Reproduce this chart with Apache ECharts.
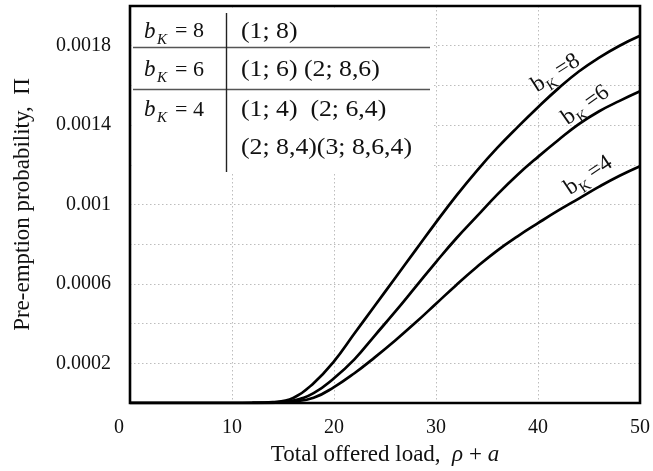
<!DOCTYPE html>
<html>
<head>
<meta charset="utf-8">
<script src="https://cdn.jsdelivr.net/npm/echarts@6/dist/echarts.min.js"></script>
<style>
html,body{margin:0;padding:0;background:#fff;}
#c{width:653px;height:471px;}
</style>
</head>
<body>
<div id="c"></div>
<script>
// ---- data ----
var loads  = [0, 2, 4, 6, 8, 10, 12, 14, 16, 18, 20, 22, 24, 26, 28, 30, 32, 34, 36, 38, 40, 42, 44, 46, 48, 50];
var pi_bK8 = [0, 0, 0, 0, 0, 0, 0.0000005, 0.000004, 0.000025, 0.0001, 0.00021, 0.00035, 0.00049, 0.00063, 0.00077, 0.00091, 0.001045, 0.00117, 0.001285, 0.00139, 0.00149, 0.001585, 0.00167, 0.00174, 0.0018, 0.00185];
var pi_bK6 = [0, 0, 0, 0, 0, 0, 0.0000003, 0.000002, 0.000012, 0.00005, 0.000125, 0.00022, 0.00034, 0.00046, 0.000585, 0.00071, 0.00083, 0.00094, 0.00105, 0.00115, 0.00124, 0.001325, 0.001405, 0.00147, 0.001522, 0.00157];
var pi_bK4 = [0, 0, 0, 0, 0, 0, 0.0000002, 0.000001, 0.000007, 0.000026, 0.00008, 0.00015, 0.00023, 0.000315, 0.000405, 0.0005, 0.000595, 0.000685, 0.000768, 0.00084, 0.000906, 0.00097, 0.00103, 0.00109, 0.001145, 0.001193];
var xTicks = [0, 10, 20, 30, 40, 50];
var yLabelTicks = [0.0002, 0.0006, 0.001, 0.0014, 0.0018];
var curveLabels = [
  {k: '8', x: 42.3, y: 0.00168, rot: 0.57},
  {k: '6', x: 45.2, y: 0.00152, rot: 0.61},
  {k: '4', x: 45.5, y: 0.001165, rot: 0.59}
];
var tableRows = [
  {left: '8', right: '(1; 8)'},
  {left: '6', right: '(1; 6) (2; 8,6)'},
  {left: '4', right: '(1; 4)  (2; 6,4)'},
  {left: null, right: '(2; 8,4)(3; 8,6,4)'}
];

var FONT = '"Liberation Serif", "DejaVu Serif", serif';
function pairs(ys){ return loads.map(function(x,i){ return [x, ys[i]]; }); }

var chart = echarts.init(document.getElementById('c'), null, {renderer:'canvas'});
var lineStyle = {color:'#000', width:2.7};
function mkSeries(name, ys){
  return {name:name, type:'line', data:pairs(ys), smooth:0.45,
    showSymbol:false, symbol:'none', lineStyle:lineStyle, z:5, clip:true};
}
chart.setOption({
  animation:false,
  backgroundColor:'#fff',
  grid:{left:130, right:12, top:6, bottom:67, show:true, borderColor:'#000', borderWidth:0, backgroundColor:'#fff'},
  xAxis:{type:'value', min:0, max:50, interval:10,
    axisLine:{show:false}, axisTick:{show:false},
    splitLine:{show:true, lineStyle:{color:'#bdbdbd', width:1, type:[1.5,2.5]}},
    axisLabel:{margin:15, color:'#111', fontFamily:FONT, fontSize:20,
      formatter:function(v){ return v===0 ? '{z|0}' : String(v); },
      rich:{z:{fontFamily:FONT, fontSize:20, color:'#111', padding:[0,22,0,0]}}},
    name:'Total offered load,  {i|ρ} + {i|a}', nameLocation:'middle', nameGap:40,
    nameTextStyle:{fontFamily:FONT, fontSize:23, color:'#111',
      rich:{i:{fontFamily:FONT, fontSize:23, fontStyle:'italic', color:'#111'}}}
  },
  yAxis:{type:'value', min:0, max:0.002, interval:0.0002,
    axisLine:{show:false}, axisTick:{show:false},
    splitLine:{show:true, lineStyle:{color:'#bdbdbd', width:1, type:[1.5,2.5]}},
    axisLabel:{margin:19, color:'#111', fontFamily:FONT, fontSize:20, padding:[6,0,0,0],
      formatter:function(v){
        for (var i=0;i<yLabelTicks.length;i++){ if (Math.abs(v-yLabelTicks[i])<1e-9) return String(yLabelTicks[i]); }
        return '';
      }},
    name:'Pre-emption probability,  Π', nameLocation:'middle', nameGap:96,
    nameTextStyle:{fontFamily:FONT, fontSize:23, color:'#111'}
  },
  series:[mkSeries('bK=8', pi_bK8), mkSeries('bK=6', pi_bK6), mkSeries('bK=4', pi_bK4)]
});

// ---- annotations ----
var origin = chart.convertToPixel({gridIndex:0}, [0, 0.002]); // top-left of plot
var corner = chart.convertToPixel({gridIndex:0}, [50, 0]);   // bottom-right of plot
var ox = origin[0], oy = origin[1];
var g = [];
// table background
g.push({type:'rect', shape:{x:ox+2, y:oy+2, width:300, height:164}, style:{fill:'#fff'}, z:3, silent:true});
g.push({type:'line', shape:{x1:ox+3, y1:oy+41.5, x2:ox+300, y2:oy+41.5}, style:{stroke:'#555', lineWidth:1.4}, z:4});
g.push({type:'line', shape:{x1:ox+3, y1:oy+83.5, x2:ox+300, y2:oy+83.5}, style:{stroke:'#555', lineWidth:1.4}, z:4});
g.push({type:'line', shape:{x1:ox+96.5, y1:oy+7, x2:ox+96.5, y2:oy+166}, style:{stroke:'#222', lineWidth:1.4}, z:4});
var rowY = [25.7, 64, 104, 142.3];
tableRows.forEach(function(r, i){
  var y = oy + rowY[i];
  if (r.left !== null) {
    g.push({type:'text', z:4, style:{x:ox+14, y:y, text:'b', font:'italic 23px '+FONT, fill:'#111', verticalAlign:'middle', align:'left'}});
    g.push({type:'text', z:4, style:{x:ox+27, y:y+8, text:'K', font:'italic 15px '+FONT, fill:'#111', verticalAlign:'middle', align:'left'}});
    g.push({type:'text', z:4, style:{x:ox+45, y:y, text:'= '+r.left, font:'22px '+FONT, fill:'#111', verticalAlign:'middle', align:'left'}});
  }
  g.push({type:'text', z:4, x:ox+111, y:y, scaleX:1.12, style:{x:0, y:0, text:r.right, font:'23px '+FONT, fill:'#111', verticalAlign:'middle', align:'left'}});
});
// rotated curve labels
curveLabels.forEach(function(c){
  var p = chart.convertToPixel({gridIndex:0}, [c.x, c.y]);
  g.push({type:'group', x:p[0], y:p[1], rotation:c.rot, z:6, children:[
    {type:'text', z:6, style:{x:-33, y:0, text:'b', font:'23px '+FONT, fill:'#111', verticalAlign:'middle', align:'left'}},
    {type:'text', z:6, style:{x:-21, y:8, text:'K', font:'15px '+FONT, fill:'#111', verticalAlign:'middle', align:'left'}},
    {type:'text', z:6, style:{x:-5, y:0, text:'='+c.k, font:'23px '+FONT, fill:'#111', verticalAlign:'middle', align:'left'}}
  ]});
});
// plot frame on top
g.push({type:'rect', z:20, silent:true, shape:{x:ox, y:oy, width:corner[0]-ox, height:corner[1]-oy}, style:{fill:null, stroke:'#000', lineWidth:2.6}});
chart.setOption({graphic:g});
</script>
</body>
</html>
